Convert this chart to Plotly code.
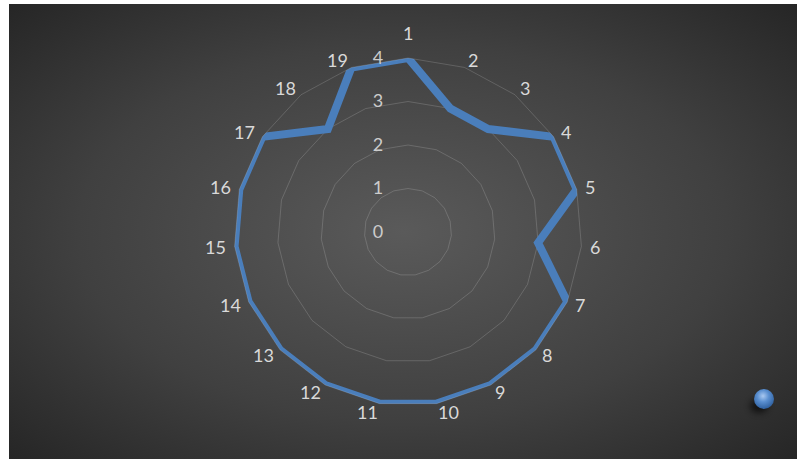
import base64
import math
import plotly.graph_objects as go

# Radar data: 19 spokes, values on a 0-4 scale
categories = [str(i) for i in range(1, 20)]
values = [4, 3, 3, 4, 4, 3, 4, 4, 4, 4, 4, 4, 4, 4, 4, 4, 4, 3, 4]
radial_ticks = [0, 1, 2, 3, 4]

W, H = 797, 459
# Chart area (leaves a thin white strip on the left and top)
AX, AY = 9, 4
AW, AH = W - AX, H - AY

# Dark radial-gradient backdrop with the glossy legend sphere
svg = f"""<svg xmlns='http://www.w3.org/2000/svg' width='{AW}' height='{AH}' viewBox='0 0 {AW} {AH}'>
<defs>
<radialGradient id='bg' cx='50%' cy='50%' r='75%' fx='50%' fy='50%'>
<stop offset='0' stop-color='#5a5a5a'/>
<stop offset='0.55' stop-color='#404040'/>
<stop offset='1' stop-color='#222222'/>
</radialGradient>
<radialGradient id='ball' cx='45%' cy='35%' r='65%'>
<stop offset='0' stop-color='#a9c8f0'/>
<stop offset='0.45' stop-color='#5a8fd0'/>
<stop offset='1' stop-color='#2e5f9e'/>
</radialGradient>
<filter id='blur' x='-1' y='-1' width='3' height='3'><feGaussianBlur stdDeviation='3'/></filter>
</defs>
<rect width='{AW}' height='{AH}' fill='url(#bg)'/>
<ellipse cx='750' cy='402' rx='9' ry='7' fill='#000' opacity='0.6' filter='url(#blur)'/>
<circle cx='755' cy='395' r='10' fill='url(#ball)'/>
</svg>"""
src = "data:image/svg+xml;base64," + base64.b64encode(svg.encode()).decode()

# Polar geometry: centre (408, 232) px, outer ring radius 174 px
cx, cy, R = 408, 232, 174

fig = go.Figure()
fig.add_trace(go.Scatterpolar(
    r=values + values[:1],
    theta=categories + categories[:1],
    mode="lines",
    line=dict(color="#4a7ebb", width=8),
    showlegend=False,
    hoverinfo="skip",
))

font_main = dict(family="Lato, 'Open Sans', sans-serif", size=18, color="#d9d9d9")
grid = "rgba(255,255,255,0.16)"

# Category labels: anchored just outside the outer grid polygon, then
# shifted sideways by half their width away from the vertical axis
step = 360 / len(categories)
label_annotations = []
for i, name in enumerate(categories):
    a = math.radians(i * step)
    s, c = math.sin(a), math.cos(a)
    rl = R + 8
    half_w = 5.5 * len(name)
    side = 0 if abs(s) < 1e-6 else math.copysign(1, s)
    x = cx + rl * s + side * half_w
    y = cy - rl * c - (17 if side == 0 and c > 0 else 0)
    label_annotations.append(dict(
        text=name, showarrow=False, xref="paper", yref="paper",
        x=x / W, y=1 - y / H,
        xanchor="center", yanchor="middle", font=font_main,
    ))

fig.update_layout(
    width=W, height=H,
    margin=dict(l=0, r=0, t=0, b=0),
    paper_bgcolor="white",
    images=[dict(
        source=src, xref="paper", yref="paper",
        x=AX / W, y=1 - AY / H, sizex=AW / W, sizey=AH / H,
        xanchor="left", yanchor="top", sizing="stretch", layer="below",
    )],
    annotations=label_annotations,
    polar=dict(
        domain=dict(x=[(cx - R) / W, (cx + R) / W],
                    y=[(H - cy - R) / H, (H - cy + R) / H]),
        bgcolor="rgba(0,0,0,0)",
        gridshape="linear",
        radialaxis=dict(
            range=[0, 4], tickvals=radial_ticks, angle=90, tickangle=90,
            side="counterclockwise",
            showline=False, ticks="outside", ticklen=18,
            tickcolor="rgba(0,0,0,0)",
            gridcolor=grid, gridwidth=1,
            tickfont=dict(font_main, color="#cccccc"),
        ),
        angularaxis=dict(
            direction="clockwise", rotation=90,
            categoryorder="array", categoryarray=categories,
            showline=True, linecolor=grid, linewidth=1,
            showgrid=False, showticklabels=False, ticks="",
        ),
    ),
)

fig.write_html("out.html")
